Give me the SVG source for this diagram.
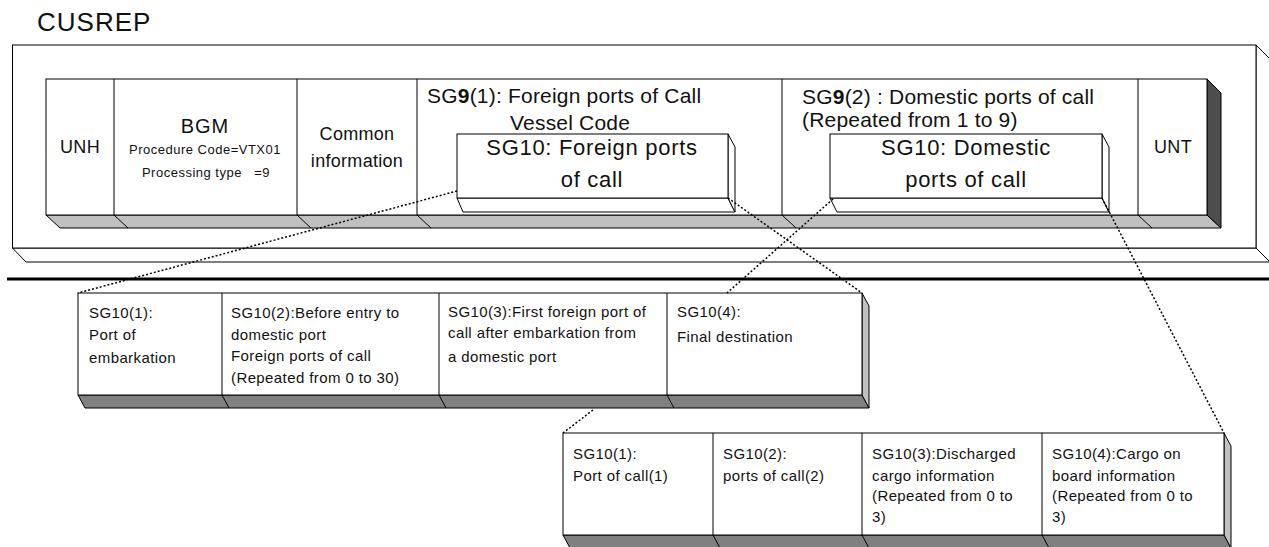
<svg xmlns="http://www.w3.org/2000/svg" width="1269" height="547" viewBox="0 0 1269 547">
<style>
  text { font-family: "Liberation Sans", Arial, sans-serif; fill: #111; }
  .ln { fill: none; stroke: #000; stroke-width: 1; }
  .wf { fill: #fff; stroke: #000; stroke-width: 1; }
  .lg { fill: #c0c0c0; stroke: #000; stroke-width: 1; }
  .dg { fill: #808080; stroke: #000; stroke-width: 1; }
  .kg { fill: #4d4d4d; stroke: #000; stroke-width: 1; }
  .dot { fill: none; stroke: #000; stroke-width: 1.5; stroke-dasharray: 2 2; }
  .big { font-size: 18px; letter-spacing: 0.3px; }
  .sg9 { font-size: 21px; letter-spacing: 0.2px; }
  .sg10 { font-size: 22px; letter-spacing: 0.7px; }
  .sm { font-size: 15px; letter-spacing: 0.4px; }
  .tiny { font-size: 13px; letter-spacing: 0.5px; }
  .c { text-anchor: middle; }
</style>

<text x="37" y="31" style="font-size:26px;letter-spacing:1px">CUSREP</text>

<g id="cusrep-frame">
  <polygon class="wf" points="12.5,248 26,262 1270,262 1256,248"/>
  <polygon class="wf" points="1256,45 1270,59 1270,262 1256,248"/>
  <rect class="wf" x="12.5" y="45" width="1243.5" height="203"/>
</g>

<g id="top-row">
  <polygon class="lg" points="46,215 60,228 1221,228 1207,215"/>
  <polygon class="kg" points="1207,79 1221,93 1221,228 1207,215"/>
  <rect class="wf" x="46" y="79" width="1161" height="136"/>
  <path class="ln" d="M114,79V215M297,79V215M417,79V215M782,79V215M1138,79V215M114,215L128,228M297,215L311,228M417,215L431,228M782,215L796,228M1138,215L1152,228"/>
</g>

<g id="unh"><text class="big c" x="80" y="153">UNH</text></g>
<g id="bgm">
  <text class="c" x="205" y="133" style="font-size:20px;letter-spacing:1px">BGM</text>
  <text class="tiny c" x="205" y="154">Procedure Code=VTX01</text>
  <text class="tiny c" x="206" y="177" xml:space="preserve">Processing type   =9</text>
</g>
<g id="common">
  <text class="big c" x="357" y="140">Common</text>
  <text class="big c" x="357" y="167">information</text>
</g>
<g id="sg9-1">
  <text class="sg9" x="427" y="103">SG<tspan font-weight="bold">9</tspan>(1): Foreign ports of Call</text>
  <text class="sg9" x="510" y="130">Vessel Code</text>
</g>
<g id="sg9-2">
  <text class="sg9" x="802" y="104">SG<tspan font-weight="bold">9</tspan>(2) : Domestic ports of call</text>
  <text class="sg9" x="802" y="127">(Repeated from 1 to 9)</text>
</g>
<g id="unt"><text class="big c" x="1173" y="153">UNT</text></g>

<g id="sg10-foreign">
  <polygon class="wf" points="457,198 463,212 735,212 728,198"/>
  <polygon class="wf" points="728,134 735,147 735,212 728,198"/>
  <rect class="wf" x="457" y="134" width="271" height="64"/>
  <text class="sg10 c" x="592" y="155">SG10: Foreign ports</text>
  <text class="sg10 c" x="592" y="187">of call</text>
</g>

<g id="sg10-domestic">
  <polygon class="wf" points="830,198 837,212 1109,212 1102,198"/>
  <polygon class="wf" points="1102,134 1109,147 1109,212 1102,198"/>
  <rect class="wf" x="830" y="134" width="272" height="64"/>
  <text class="sg10 c" x="966" y="155">SG10: Domestic</text>
  <text class="sg10 c" x="966" y="187">ports of call</text>
</g>

<line x1="7" y1="279" x2="1269" y2="279" stroke="#000" stroke-width="3"/>

<g id="foreign-row">
  <polygon class="dg" points="78,395 85,408 869,408 862,395"/>
  <polygon class="lg" points="862,293 869,306 869,408 862,395"/>
  <rect class="wf" x="78" y="293" width="784" height="102"/>
  <path class="ln" d="M222,293V395M439,293V395M667,293V395M222,395L229,408M439,395L446,408M667,395L674,408"/>
</g>
<g id="f-sg10-1">
  <text class="sm" x="89" y="318">SG10(1):</text>
  <text class="sm" x="89" y="340">Port of</text>
  <text class="sm" x="89" y="363">embarkation</text>
</g>
<g id="f-sg10-2">
  <text class="sm" x="231" y="318">SG10(2):Before entry to</text>
  <text class="sm" x="231" y="340">domestic port</text>
  <text class="sm" x="231" y="361">Foreign ports of call</text>
  <text class="sm" x="231" y="383">(Repeated from 0 to 30)</text>
</g>
<g id="f-sg10-3">
  <text class="sm" x="448" y="317">SG10(3):First foreign port of</text>
  <text class="sm" x="448" y="338">call after embarkation from</text>
  <text class="sm" x="448" y="362">a domestic port</text>
</g>
<g id="f-sg10-4">
  <text class="sm" x="677" y="317">SG10(4):</text>
  <text class="sm" x="677" y="342">Final destination</text>
</g>

<g id="domestic-row">
  <polygon class="dg" points="563,535 570,548 1231,548 1224,535"/>
  <polygon class="lg" points="1224,433 1231,446 1231,548 1224,535"/>
  <rect class="wf" x="563" y="433" width="661" height="102"/>
  <path class="ln" d="M713,433V535M862,433V535M1042,433V535M713,535L720,548M862,535L869,548M1042,535L1049,548"/>
</g>
<g id="d-sg10-1">
  <text class="sm" x="573" y="459">SG10(1):</text>
  <text class="sm" x="573" y="481">Port of call(1)</text>
</g>
<g id="d-sg10-2">
  <text class="sm" x="723" y="459">SG10(2):</text>
  <text class="sm" x="723" y="481">ports of call(2)</text>
</g>
<g id="d-sg10-3">
  <text class="sm" x="872" y="459">SG10(3):Discharged</text>
  <text class="sm" x="872" y="481">cargo information</text>
  <text class="sm" x="872" y="501">(Repeated from 0 to</text>
  <text class="sm" x="872" y="522">3)</text>
</g>
<g id="d-sg10-4">
  <text class="sm" x="1052" y="459">SG10(4):Cargo on</text>
  <text class="sm" x="1052" y="481">board information</text>
  <text class="sm" x="1052" y="501">(Repeated from 0 to</text>
  <text class="sm" x="1052" y="522">3)</text>
</g>

<g id="connectors">
  <line class="dot" x1="457" y1="191" x2="78" y2="293"/>
  <line class="dot" x1="728" y1="198" x2="862" y2="293"/>
  <line class="dot" x1="833" y1="199" x2="727" y2="293"/>
  <line class="dot" x1="1102" y1="198" x2="1224" y2="433"/>
  <line class="dot" x1="593" y1="410" x2="563" y2="433"/>
</g>
</svg>
